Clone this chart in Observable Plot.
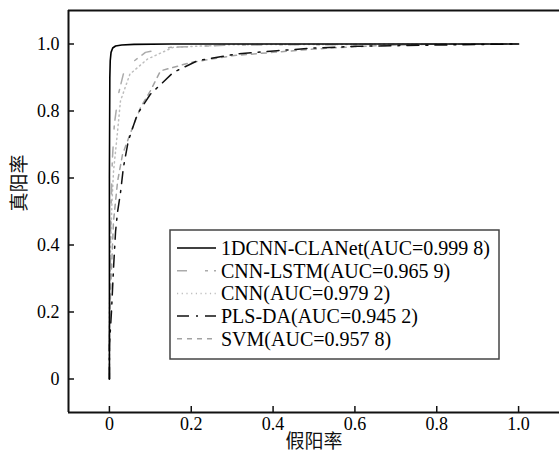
<!DOCTYPE html>
<html><head><meta charset="utf-8">
<script src="https://cdn.jsdelivr.net/npm/d3@7"></script>
<script src="https://cdn.jsdelivr.net/npm/@observablehq/plot@0.6"></script>
<style>body{margin:0;background:#fff}#chart svg{display:block}</style>
</head><body><div id="chart"></div>
<script>
const xLabel = "假阳率";
const yLabel = "真阳率";
const xTicks = [0, 0.2, 0.4, 0.6, 0.8, 1.0];
const yTicks = [0, 0.2, 0.4, 0.6, 0.8, 1.0];
const seriesNames = ["1DCNN-CLANet", "CNN-LSTM", "CNN", "PLS-DA", "SVM"];
const aucLabels = ["0.999 8", "0.965 9", "0.979 2", "0.945 2", "0.957 8"];
const seriesColors = ["#000000", "#ababab", "#bdbdbd", "#111111", "#a3a3a3"];
const seriesDash = ["none", "10,18,3,6", "1.2,3.5", "12,7,2,7", "5,5"];

const fprCLANet = [0, 0, 0.001, 0.002, 0.004, 0.008, 0.015, 0.03, 0.06, 0.15, 1];
const tprCLANet = [0, 0.6, 0.9, 0.95, 0.975, 0.988, 0.994, 0.997, 0.999, 1, 1];
const fprLSTM = [0, 0, 0.002, 0.003, 0.005, 0.007, 0.012, 0.022, 0.034, 0.046, 0.088, 0.15, 0.3, 1];
const tprLSTM = [0, 0.15, 0.3, 0.45, 0.55, 0.65, 0.76, 0.85, 0.91, 0.936, 0.975, 0.99, 0.997, 1];
const fprCNN = [0, 0, 0.003, 0.006, 0.01, 0.02, 0.027, 0.05, 0.093, 0.156, 0.3, 1];
const tprCNN = [0, 0.2, 0.4, 0.52, 0.62, 0.74, 0.83, 0.91, 0.955, 0.99, 0.998, 1];
const fprPLS = [0, 0, 0.005, 0.01, 0.015, 0.02, 0.027, 0.034, 0.046, 0.068, 0.1, 0.156, 0.215, 0.31, 0.41, 0.5, 0.6, 0.8, 1];
const tprPLS = [0, 0.1, 0.2, 0.33, 0.44, 0.5, 0.555, 0.63, 0.71, 0.79, 0.85, 0.915, 0.95, 0.97, 0.98, 0.988, 0.993, 0.997, 1];
const fprSVM = [0, 0, 0.004, 0.01, 0.02, 0.032, 0.05, 0.076, 0.1, 0.125, 0.2, 0.3, 0.4, 0.5, 0.65, 0.8, 1];
const tprSVM = [0, 0.15, 0.3, 0.47, 0.59, 0.67, 0.73, 0.81, 0.86, 0.92, 0.945, 0.965, 0.975, 0.985, 0.995, 1, 1];

const fprs = [fprCLANet, fprLSTM, fprCNN, fprPLS, fprSVM];
const tprs = [tprCLANet, tprLSTM, tprCNN, tprPLS, tprSVM];

const curves = seriesNames.map((name, i) => fprs[i].map((x, j) => ({x, y: tprs[i][j], name})));

const serif = "Liberation Serif";
const cjk = "Noto Sans CJK SC";

const marks = [];
[2, 1, 4, 3, 0].forEach(i => {
  marks.push(Plot.line(curves[i], {x: "x", y: "y", stroke: seriesColors[i], strokeWidth: i === 0 ? 1.6 : 1.5, strokeDasharray: seriesDash[i] === "none" ? null : seriesDash[i], curve: "linear"}));
});
marks.push(
  Plot.axisX({ticks: xTicks, tickFormat: d => d === 0 ? "0" : d.toFixed(1), tickSize: -6, tickPadding: 11, strokeWidth: 1.5, stroke: "#111", fill: "#000", label: null, fontSize: 18, fontFamily: serif}),
  Plot.axisY({ticks: yTicks, tickFormat: d => d === 0 ? "0" : d.toFixed(1), tickSize: -6, tickPadding: 15, strokeWidth: 1.5, stroke: "#111", fill: "#000", label: null, fontSize: 18, fontFamily: serif}),
  Plot.ruleX([-0.1], {stroke: "#111", strokeWidth: 2}),
  Plot.ruleY([-0.1], {stroke: "#111", strokeWidth: 2}),
  Plot.ruleY([1.1], {stroke: "#111", strokeWidth: 2}),
  Plot.text([xLabel], {frameAnchor: "bottom", dy: 35, fontFamily: cjk, fontSize: 19, fill: "#111"}),
  Plot.text([yLabel], {frameAnchor: "left", rotate: -90, dx: -49, fontFamily: cjk, fontSize: 19, fill: "#111"})
);

const chart = Plot.plot({
  width: 559,
  height: 456,
  marginLeft: 68,
  marginRight: 0,
  marginTop: 10,
  marginBottom: 44,
  style: {fontFamily: serif, fontSize: "18px", color: "#111", background: "#fff"},
  x: {domain: [-0.1, 1.1]},
  y: {domain: [-0.1, 1.1]},
  marks
});
document.getElementById("chart").appendChild(chart);

// legend
const svg = d3.select(chart);
const lg = svg.append("g").attr("class", "legend").attr("text-anchor", "start");
const boxX = 170, boxY = 230, boxW = 329, boxH = 129, rowH = 22.7, row0 = 248;
lg.append("rect").attr("x", boxX).attr("y", boxY).attr("width", boxW).attr("height", boxH)
  .attr("fill", "#fff").attr("stroke", "#444").attr("stroke-width", 1.5);
seriesNames.forEach((name, i) => {
  const yy = row0 + i * rowH;
  lg.append("line").attr("x1", 177).attr("x2", 216).attr("y1", yy).attr("y2", yy)
    .attr("stroke", seriesColors[i]).attr("stroke-width", 1.5)
    .attr("stroke-dasharray", seriesDash[i] === "none" ? null : seriesDash[i]);
  lg.append("text").attr("x", 221).attr("y", yy).attr("dy", "0.35em")
    .attr("text-anchor", "start")
    .attr("font-family", serif).attr("font-size", 20).attr("fill", "#000")
    .text(`${name}(AUC=${aucLabels[i]})`);
});
</script>
</body></html>
